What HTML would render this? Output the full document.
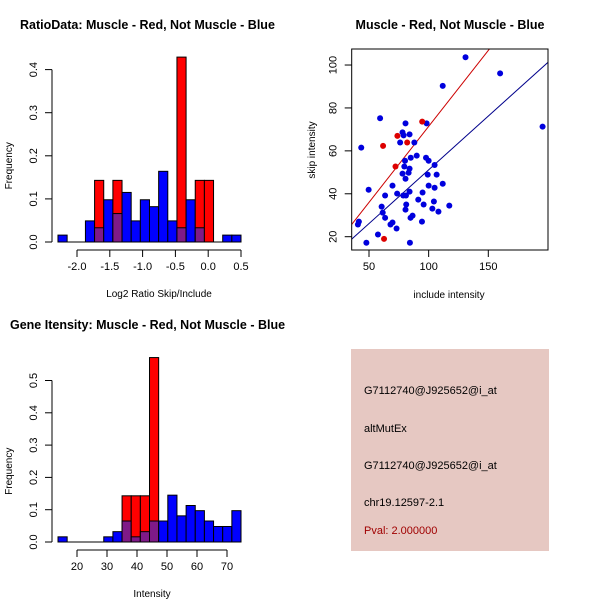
<!DOCTYPE html>
<html><head><meta charset="utf-8"><style>
body{margin:0;background:#fff;}
svg{display:block;font-family:"Liberation Sans",sans-serif;}
</style></head><body>
<svg id="c" width="600" height="600" viewBox="0 0 600 600"></svg>
<script>
// Histogram 1 data (20 bins)
const h1Start = -2.29, h1Width = 0.1395;
const h1Red = [0,0,0,0,0.143,0,0.143,0,0,0,0,0,0,0.429,0,0.143,0.143,0,0,0];
const h1Blue = [0.016,0,0,0.049,0.033,0.098,0.066,0.115,0.049,0.098,0.082,0.164,0.049,0.033,0.098,0.033,0,0,0.016,0.016];
const h1XTicks = [-2.0,-1.5,-1.0,-0.5,0.0,0.5];
const h1XLabels = ["-2.0","-1.5","-1.0","-0.5","0.0","0.5"];
const h1YTicks = [0,0.1,0.2,0.3,0.4];
const h1YLabels = ["0.0","0.1","0.2","0.3","0.4"];
// Histogram 2 data
const h2Start = 13.67, h2Width = 3.05;
const h2Red = [0,0,0,0,0,0,0,0.143,0.143,0.143,0.571,0,0,0,0,0,0,0,0,0];
const h2Blue = [0.016,0,0,0,0,0.016,0.032,0.065,0.016,0.032,0.065,0.065,0.145,0.081,0.113,0.097,0.065,0.048,0.048,0.097];
const h2XTicks = [20,30,40,50,60,70];
const h2XLabels = ["20","30","40","50","60","70"];
const h2YTicks = [0,0.1,0.2,0.3,0.4,0.5];
const h2YLabels = ["0.0","0.1","0.2","0.3","0.4","0.5"];
// Scatter data
const blueX = [130.9,159.9,111.8,195.5,59.3,80.6,98.3,78.1,79,84,76.1,88,43.5,90,85,80.2,97.8,100,79.6,84,83.2,78.1,99.2,106.7,105,80.6,49.7,69.7,100,105,111.8,73.6,63.5,78.7,81,84,94.9,91.3,104.4,81.2,95.8,117.3,103.1,108.2,80.6,60.6,61.5,63.5,84.8,86.5,94.4,69.7,68,73.1,41.5,40.7,57.5,47.8,84.3];
const blueY = [103.6,96.1,90.3,71.3,75.2,72.8,72.8,68.6,67.2,67.7,63.9,63.9,61.5,57.8,56.8,55.4,56.8,55.4,52.7,51.7,49.8,49.4,48.9,48.9,53.4,47,41.9,43.8,43.8,42.8,44.7,40.1,39.2,39.2,39.2,41,40.6,37.3,36.4,35,35,34.5,33.1,31.7,32.6,34,31.2,28.8,28.8,29.8,27,26.6,25.7,23.8,27,25.7,21,17.2,17.2];
const redX = [61.8,73.8,82,94.6,72.2,62.6];
const redY = [62.3,67,63.9,73.6,52.7,19];
const redLine = [0.6,0.708];   // intercept, slope
const blueLine = [1.06,0.501];
const scXTicks = [50,100,150];
const scXLabels = ["50","100","150"];
const scYTicks = [20,40,60,80,100];
const scYLabels = ["20","40","60","80","100"];

const svg = document.getElementById('c');
const NS = 'http://www.w3.org/2000/svg';
function mk(tag, attrs, parent){
  const e = document.createElementNS(NS, tag);
  for (const k in attrs) e.setAttribute(k, attrs[k]);
  (parent||svg).appendChild(e);
  return e;
}
function txt(s, x, y, size, opts){
  opts = opts||{};
  const t = mk('text', {x:x, y:y, 'font-size':size, fill:opts.fill||'#000', 'text-anchor':opts.anchor||'middle', 'font-weight':opts.bold?'bold':'normal'});
  if (opts.rot) t.setAttribute('transform', 'rotate(-90 '+x+' '+y+')');
  t.textContent = s;
  return t;
}

function hist(g, start, width, red, blue, xs, ys, xTicks, xLabels, yTicks, yLabels, axisY, title, xtitle, tx, ty){
  for (let i=0;i<red.length;i++){
    const x0 = xs(start+i*width), x1 = xs(start+(i+1)*width);
    if (red[i]>0){
      const r = mk('rect',{x:x0,y:ys(red[i]),width:x1-x0,height:ys(0)-ys(red[i]),fill:'#ff0000',stroke:'#000','stroke-width':1}, g);
      
      
    }
    if (blue[i]>0){
      const b = mk('rect',{x:x0,y:ys(blue[i]),width:x1-x0,height:ys(0)-ys(blue[i]),fill:red[i]>0?'#7f1a88':'#0000ff',stroke:'#000','stroke-width':1}, g);
      
      
    }
  }
  // baseline
  mk('line',{x1:xs(start),x2:xs(start+red.length*width),y1:ys(0),y2:ys(0),stroke:'#000'},g);
  // x axis
  mk('line',{x1:xs(xTicks[0]),x2:xs(xTicks[xTicks.length-1]),y1:axisY,y2:axisY,stroke:'#000'},g);
  xTicks.forEach((v,i)=>{
    mk('line',{x1:xs(v),x2:xs(v),y1:axisY,y2:axisY+7,stroke:'#000'},g);
    txt(xLabels[i], xs(v), axisY+20, 11);
  });
  // y axis
  mk('line',{x1:52,x2:52,y1:ys(yTicks[0]),y2:ys(yTicks[yTicks.length-1]),stroke:'#000'},g);
  yTicks.forEach((v,i)=>{
    mk('line',{x1:45,x2:52,y1:ys(v),y2:ys(v),stroke:'#000'},g);
    txt(yLabels[i], 37, ys(v), 11, {rot:true});
  });
  txt('Frequency', 12, ys(0)-(ys(0)-ys(yTicks[yTicks.length-1]))/2+10, 10, {rot:true});
  txt(xtitle, (xs(xTicks[0])+xs(xTicks[xTicks.length-1]))/2, axisY+47, 10);
  txt(title, tx, ty, 12.5, {bold:true, anchor:'start'});
}

// Panel 1
const g1 = mk('g',{});  
const xs1 = v => 77 + (v+2.0)*65.6;
const ys1 = v => 242 - v*431;
hist(g1, h1Start, h1Width, h1Red, h1Blue, xs1, ys1, h1XTicks, h1XLabels, h1YTicks, h1YLabels, 250, 'RatioData: Muscle - Red, Not Muscle - Blue', 'Log2 Ratio Skip/Include', 20, 29);

// Panel 3
const g3 = mk('g',{});  
const xs3 = v => 77 + (v-20)*3.0;
const ys3 = v => 542 - v*323;
hist(g3, h2Start, h2Width, h2Red, h2Blue, xs3, ys3, h2XTicks, h2XLabels, h2YTicks, h2YLabels, 550, 'Gene Itensity: Muscle - Red, Not Muscle - Blue', 'Intensity', 10, 329);

// Panel 2 scatter
const g2 = mk('g',{});  
const sx = v => 369 + (v-50)*1.193;
const sy = v => 236.7 - (v-20)*2.146;
const L=351.7,R=548,T=49,B=250;
const clip = mk('clipPath',{id:'scClip'},g2);
mk('rect',{x:L,y:T,width:R-L,height:B-T},clip);
const lg = mk('g',{'clip-path':'url(#scClip)'},g2);
[[redLine,'#cc0000','red-fit-line'],[blueLine,'#00008b','blue-fit-line']].forEach(([p,c,n])=>{
  const l = mk('line',{x1:sx(30),y1:sy(p[0]+p[1]*30),x2:sx(210),y2:sy(p[0]+p[1]*210),stroke:c,'stroke-width':1},lg);
  
  
});
blueX.forEach((x,i)=>{
  const c = mk('circle',{cx:sx(x),cy:sy(blueY[i]),r:3,fill:'#0000dd'},g2);
  
  
});
redX.forEach((x,i)=>{
  const c = mk('circle',{cx:sx(x),cy:sy(redY[i]),r:3,fill:'#dd0000'},g2);
  
  
});
mk('rect',{x:L,y:T,width:R-L,height:B-T,fill:'none',stroke:'#000'},g2);
scXTicks.forEach((v,i)=>{
  mk('line',{x1:sx(v),x2:sx(v),y1:B,y2:B+7,stroke:'#000'},g2);
  txt(scXLabels[i], sx(v), B+20, 11);
});
scYTicks.forEach((v,i)=>{
  mk('line',{x1:L-7,x2:L,y1:sy(v),y2:sy(v),stroke:'#000'},g2);
  txt(scYLabels[i], L-15, sy(v), 11, {rot:true});
});
txt('include intensity', 449, 298, 10);
txt('skip intensity', 315, 150, 10, {rot:true});
txt('Muscle - Red, Not Muscle - Blue', 450, 29, 12.5, {bold:true});
</script>
<div style="position:absolute;left:351px;top:349px;width:198px;height:202px;background:#e6c8c2;font-family:'Liberation Sans',sans-serif;font-size:11px;color:#000;">
  <div style="position:absolute;left:13px;top:36px;">G7112740@J925652@i_at</div>
  <div style="position:absolute;left:13px;top:74px;">altMutEx</div>
  <div style="position:absolute;left:13px;top:111px;">G7112740@J925652@i_at</div>
  <div style="position:absolute;left:13px;top:148px;">chr19.12597-2.1</div>
  <div style="position:absolute;left:13px;top:176px;color:#a00000;">Pval: 2.000000</div>
</div>
</body></html>
